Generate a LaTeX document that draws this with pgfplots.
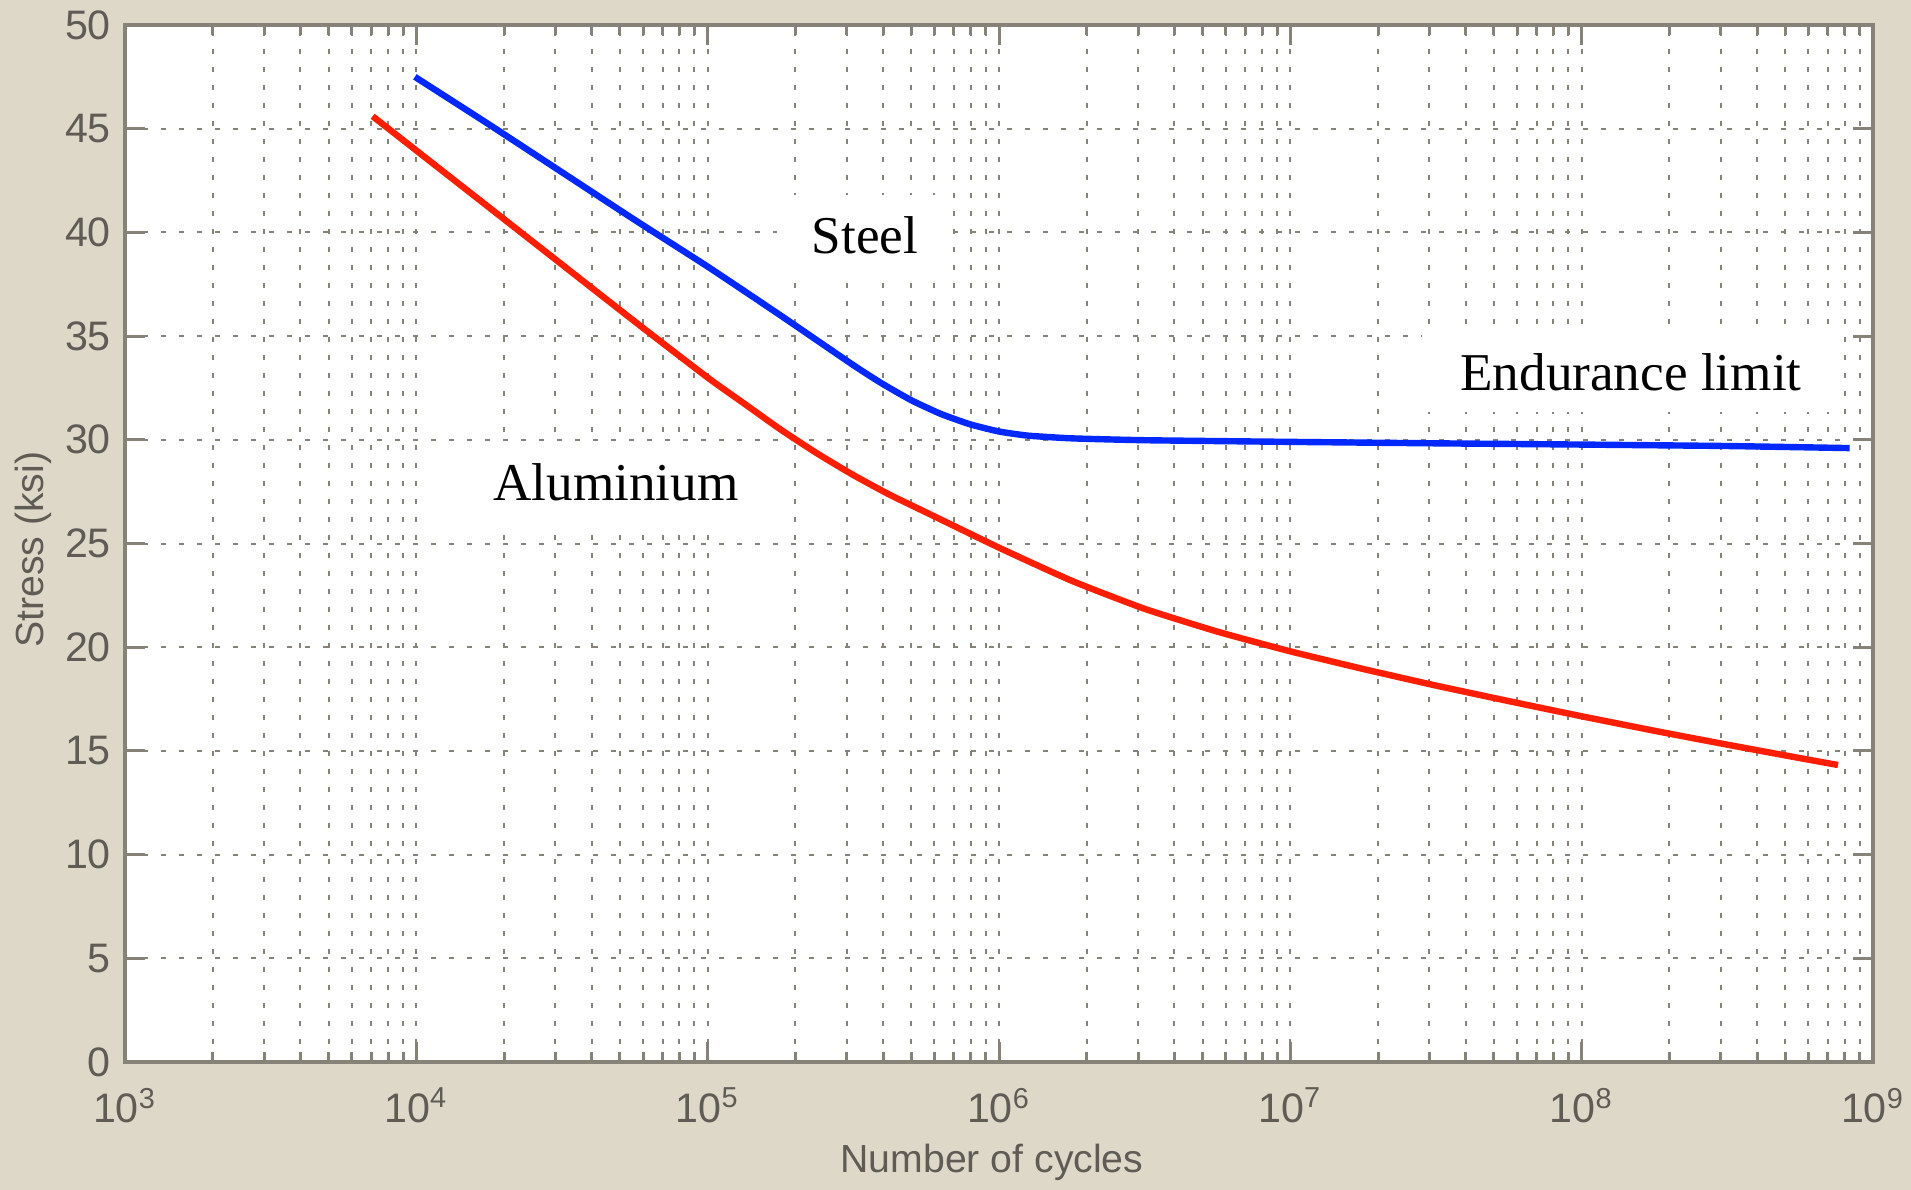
\documentclass[border=0pt]{standalone}
\usepackage{fontspec}
\setmainfont{Liberation Serif}
\setsansfont{Liberation Sans}
\usepackage{pgfplots}
\pgfplotsset{compat=1.18}
\definecolor{figbg}{RGB}{221,216,200}
\definecolor{axgray}{RGB}{135,130,120}
\definecolor{gridgray}{RGB}{135,130,120}
\definecolor{lblgray}{RGB}{95,92,86}
\definecolor{steelblue}{RGB}{0,40,255}
\definecolor{alred}{RGB}{255,30,0}
\begin{document}
\begin{tikzpicture}
\fill[figbg] (-31.25pt,-32pt) rectangle (446.5pt,265.5pt);
\begin{axis}[
  at={(0,0)}, anchor=south west,
  scale only axis, width=437pt, height=259.25pt,
  xmode=log, log basis x=10,
  xmin=1e3, xmax=1e9, ymin=0, ymax=50,
  ytick={0,5,...,50},
  xtick={1e3,1e4,1e5,1e6,1e7,1e8,1e9},
  minor xtick={2e3,3e3,4e3,5e3,6e3,7e3,8e3,9e3,
    2e4,3e4,4e4,5e4,6e4,7e4,8e4,9e4,
    2e5,3e5,4e5,5e5,6e5,7e5,8e5,9e5,
    2e6,3e6,4e6,5e6,6e6,7e6,8e6,9e6,
    2e7,3e7,4e7,5e7,6e7,7e7,8e7,9e7,
    2e8,3e8,4e8,5e8,6e8,7e8,8e8,9e8},
  xticklabels={10\textsuperscript{3},10\textsuperscript{4},10\textsuperscript{5},10\textsuperscript{6},10\textsuperscript{7},10\textsuperscript{8},10\textsuperscript{9}},
  grid=both,
  major grid style={gridgray, line width=0.5pt, dash pattern=on 1.25pt off 3.25pt},
  minor grid style={gridgray, line width=0.5pt, dash pattern=on 1.25pt off 3.25pt},
  tick align=inside,
  major tick length=5pt, minor tick length=2.5pt,
  tick style={axgray, line width=0.75pt},
  axis line style={axgray, line width=1pt},
  axis background/.style={fill=white},
  /pgf/number format/assume math mode=true,
  tick label style={font=\sffamily\fontsize{10.3}{12}\selectfont, text=lblgray},
  xticklabel style={yshift=-3pt},
  label style={font=\sffamily\fontsize{9.8}{12}\selectfont, text=lblgray},
  xlabel={Number of cycles},
  ylabel={Stress (ksi)},
  xlabel style={at={(axis description cs:0.496,-0.0964)}, anchor=center},
  ylabel style={at={(axis description cs:-0.0526,0.494)}, anchor=center},
  clip=false,
]
\node[fill=white, minimum width=44pt, minimum height=20pt, inner sep=0pt, font=\fontsize{13.3}{15}\selectfont] at (axis cs:3.467e5,39.87) {Steel};
\node[fill=white, minimum width=104.5pt, minimum height=20pt, inner sep=0pt, font=\fontsize{13.3}{15}\selectfont] at (axis cs:1.476e8,33.27) {Endurance limit};
\node[fill=white, minimum width=84.25pt, minimum height=20.25pt, inner sep=0pt, font=\fontsize{13.3}{15}\selectfont] at (axis cs:4.842e4,27.97) {Aluminium};
\addplot[steelblue, line width=1.6pt, smooth, tension=0.3] coordinates {
 (9886,47.5) (17783,45.2) (31623,42.9) (56234,40.6) (100000,38.35)
 (177828,36.0) (316228,33.6) (398107,32.7) (501187,31.9) (630957,31.25)
 (794328,30.75) (1000000,30.4) (1258925,30.2) (1778279,30.07)
 (3162278,29.98) (1e7,29.9) (3.1623e7,29.83) (1e8,29.77) (3.1623e8,29.7) (8.3176e8,29.6)
};
\addplot[alred, line width=1.6pt, smooth, tension=0.3] coordinates {
 (7079,45.6) (10000,43.95) (17783,41.2) (31623,38.45) (56234,35.7)
 (100000,33.0) (133352,31.75) (177828,30.5) (237137,29.35) (316228,28.3)
 (421697,27.35) (562341,26.5) (1000000,24.8)
 (1778279,23.2) (3162278,21.85) (5623413,20.75) (1e7,19.8) (1.7783e7,18.95)
 (3.1623e7,18.15) (5.6234e7,17.4) (1e8,16.67) (1.7783e8,15.97) (3.1623e8,15.3)
 (5.6234e8,14.65) (7.5858e8,14.32)
};
\end{axis}
\pgfresetboundingbox
\useasboundingbox (-31.25pt,-32pt) rectangle (446.5pt,265.5pt);
\end{tikzpicture}
\end{document}
